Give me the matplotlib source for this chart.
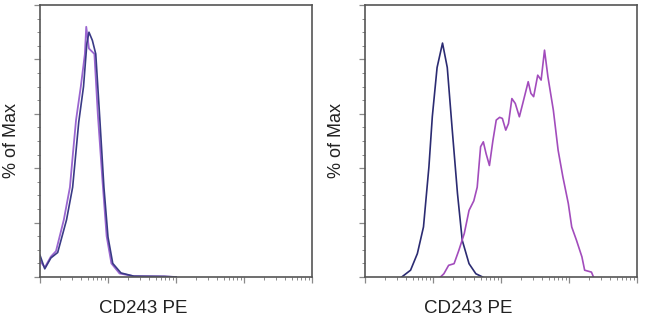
import numpy as np
import matplotlib
matplotlib.use("Agg")
from matplotlib import pyplot as plt
from matplotlib.ticker import FixedLocator

plt.rcParams['font.family'] = ['Liberation Sans', 'DejaVu Sans']

# x in decades (0..4), y in % of max
left_navy_x = [0.0, 0.07, 0.16, 0.26, 0.39, 0.48, 0.525, 0.57, 0.64, 0.69, 0.72, 0.77, 0.82, 0.88, 0.94, 1.0, 1.07, 1.19, 1.38, 1.83, 2.0]
left_navy_y = [8.0, 3.0, 7.0, 9.0, 21, 33, 45, 57, 70, 86, 90, 87, 82, 58, 33, 14.7, 5, 1.5, 0.3, 0.2, 0.0]
left_purple_x = [0.0, 0.07, 0.16, 0.235, 0.35, 0.44, 0.485, 0.53, 0.6, 0.66, 0.68, 0.72, 0.76, 0.8, 0.85, 0.92, 0.98, 1.05, 1.17, 1.38, 1.83, 2.0]
left_purple_y = [6.0, 3.5, 7.5, 9.5, 21, 33, 45.6, 57.7, 70, 82, 92, 84, 83, 82, 60, 35, 15, 5, 1.3, 0.3, 0.2, 0.0]

right_navy_x = [0.54, 0.67, 0.77, 0.86, 0.94, 0.99, 1.06, 1.14, 1.21, 1.28, 1.36, 1.43, 1.53, 1.63, 1.73]
right_navy_y = [0.0, 2.5, 8.6, 18.4, 40.5, 59, 77, 86, 77, 55, 30.7, 13.5, 4.9, 1.2, 0.0]
right_purple_x = [1.11, 1.16, 1.23, 1.31, 1.38, 1.46, 1.53, 1.6, 1.65, 1.7, 1.74, 1.78, 1.83, 1.88, 1.93, 1.98, 2.02,
                  2.07, 2.11, 2.16, 2.21, 2.27, 2.32, 2.4, 2.44, 2.48, 2.54, 2.59, 2.64, 2.69, 2.77, 2.84, 2.91, 2.99,
                  3.04, 3.11, 3.19, 3.23, 3.33, 3.36]
right_purple_y = [0.0, 1.2, 4.3, 4.9, 9.8, 16, 24.5, 28, 33, 47.9, 49.7, 45.4, 41, 50, 57.7, 58.7, 58.3,
                  54, 56.4, 65.6, 63.8, 58.9, 63.8, 71.8, 67.5, 66.3, 74.2, 72.4, 83.4, 73.6, 61.3, 46.6, 36.8, 27,
                  18.4, 13.5, 7.4, 2.5, 1.8, 0.0]

navy = '#2b2b72'
purple = '#a24cbc'
frame = '#555555'
tickc = '#8a8a8a'

fig = plt.figure(figsize=(6.5, 3.21), dpi=100)
ax1 = fig.add_axes([40 / 650, 1 - 277 / 321, 272 / 650, 272 / 321])
ax2 = fig.add_axes([365 / 650, 1 - 277 / 321, 272 / 650, 272 / 321])

ax1.plot(left_purple_x, left_purple_y, color='#9a66d0', lw=1.3)
ax1.plot(left_navy_x, left_navy_y, color='#3a3a86', lw=1.2)
ax2.plot(right_navy_x, right_navy_y, color=navy, lw=1.2)
ax2.plot(right_purple_x, right_purple_y, color=purple, lw=1.2)

minor_x = [d + np.log10(k) for d in range(4) for k in range(2, 10)]
for ax in (ax1, ax2):
    ax.set_xlim(0, 4)
    ax.set_ylim(0, 100)
    for s in ax.spines.values():
        s.set_color(frame)
        s.set_linewidth(1.2)
    ax.set_xticks([0, 1, 2, 3, 4])
    ax.xaxis.set_minor_locator(FixedLocator(minor_x))
    ax.set_yticks([0, 20, 40, 60, 80, 100])
    ax.yaxis.set_minor_locator(FixedLocator([v for v in range(0, 101, 5) if v % 20]))
    ax.tick_params(which='major', length=4, width=0.9, color=tickc, labelbottom=False, labelleft=False)
    ax.tick_params(which='minor', length=2, width=0.7, color=tickc)
    ax.text(-0.105, 0.5, '% of Max', transform=ax.transAxes, rotation=90,
            ha='center', va='center', fontsize=13, color='#222222')
    ax.text(0.38, -0.115, 'CD243 PE', transform=ax.transAxes,
            ha='center', va='center', fontsize=13.5, color='#222222')

fig.savefig('out.png', dpi=100)
